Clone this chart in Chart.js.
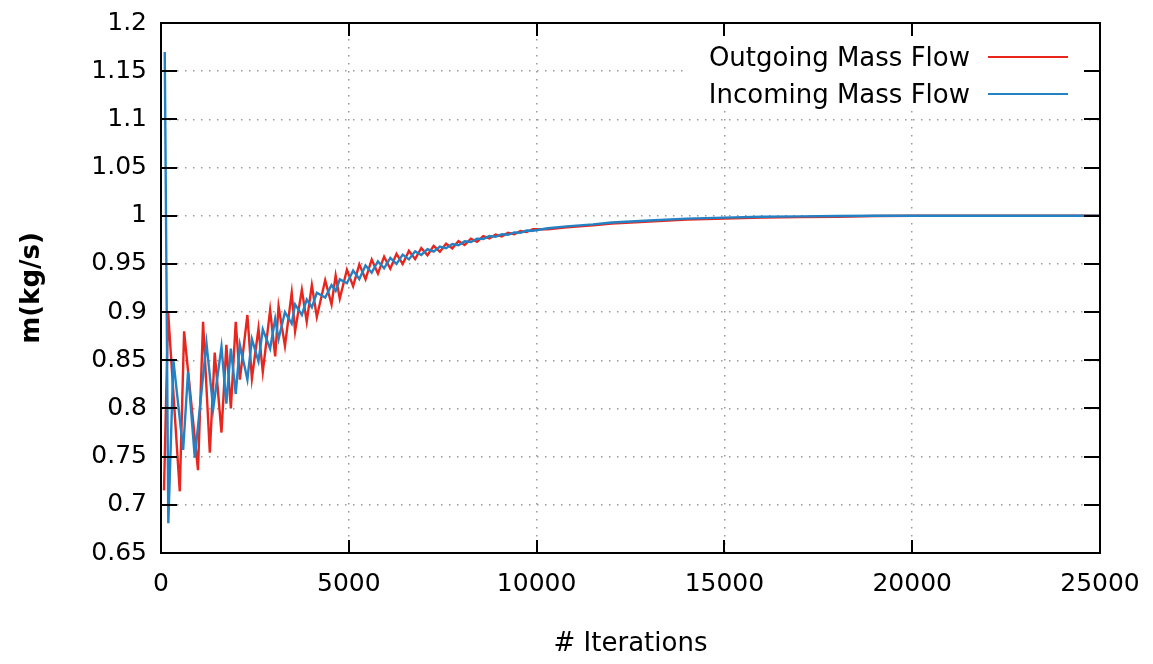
<!DOCTYPE html>
<html lang="en">
<head>
<meta charset="UTF-8">
<title>Mass Flow</title>
<script src="https://cdn.jsdelivr.net/npm/chart.js"></script>
<style>
  html, body { margin: 0; padding: 0; background: #fff; }
</style>
</head>
<body>
<canvas id="flowChart" width="1153" height="664"></canvas>
<script>
// Outgoing mass flow (red)
const outIter = [80, 190, 500, 615, 985, 1120, 1300, 1430, 1610, 1740, 1860, 1990, 2100, 2300, 2420, 2595, 2710, 2905,
  3040, 3130, 3300, 3480, 3570, 3750, 3880, 4016, 4149, 4371, 4540, 4650, 4760, 4950,
  5115, 5280, 5445, 5610, 5775, 5940, 6105, 6270, 6435, 6600, 6765, 6930, 7095, 7260, 7425, 7590, 7755, 7920,
  8085, 8250, 8415, 8580, 8745, 8910, 9075, 9240, 9405, 9570, 9735, 9900,
  10300, 10800, 11500, 12000, 13000, 14000, 15000, 16000, 17000, 18000, 19000, 20000, 25000];
const outFlow = [0.715, 0.900, 0.714, 0.880, 0.736, 0.890, 0.754, 0.858, 0.775, 0.866, 0.800, 0.890, 0.830, 0.897, 0.831, 0.883, 0.838, 0.902,
  0.854, 0.906, 0.865, 0.920, 0.880, 0.923, 0.890, 0.928, 0.895, 0.933, 0.908, 0.938, 0.914, 0.944,
  0.927, 0.9495, 0.934, 0.9545, 0.940, 0.9575, 0.945, 0.9605, 0.950, 0.9635, 0.955, 0.9665, 0.959, 0.9687, 0.9626, 0.971, 0.9662, 0.9736,
  0.9696, 0.9762, 0.973, 0.9788, 0.9764, 0.9805, 0.9786, 0.9823, 0.9808, 0.9841, 0.983, 0.986,
  0.986, 0.988, 0.990, 0.992, 0.994, 0.996, 0.997, 0.998, 0.9985, 0.999, 0.9997, 1.0, 1.0];

// Incoming mass flow (blue)
const inIter = [100, 195, 330, 590, 720, 900, 1210, 1390, 1610, 1740, 1860, 1990, 2100, 2300, 2420, 2595, 2710, 2905,
  3040, 3130, 3300, 3480, 3570, 3750, 3880, 4016, 4149, 4371, 4540, 4650, 4760, 4950,
  5115, 5280, 5445, 5610, 5775, 5940, 6105, 6270, 6435, 6600, 6765, 6930, 7095, 7260, 7425, 7590, 7755, 7920,
  8085, 8250, 8415, 8580, 8745, 8910, 9075, 9240, 9405, 9570, 9735, 9900,
  10300, 10800, 11500, 12000, 13000, 14000, 15000, 16000, 17000, 18000, 19000, 20000, 25000];
const inFlow = [1.170, 0.681, 0.850, 0.757, 0.838, 0.749, 0.868, 0.800, 0.864, 0.805, 0.862, 0.815, 0.866, 0.830, 0.872, 0.849, 0.882, 0.862,
  0.893, 0.872, 0.900, 0.888, 0.908, 0.897, 0.913, 0.905, 0.920, 0.915, 0.928, 0.922, 0.934, 0.930,
  0.943, 0.9343, 0.9484, 0.9409, 0.9528, 0.9455, 0.9562, 0.9501, 0.9596, 0.9547, 0.963, 0.9593, 0.9654, 0.9628, 0.968, 0.9662, 0.9707, 0.9694,
  0.9734, 0.9727, 0.9762, 0.9759, 0.979, 0.9781, 0.9808, 0.9802, 0.9827, 0.9823, 0.9846, 0.9844,
  0.987, 0.989, 0.991, 0.993, 0.995, 0.997, 0.998, 0.999, 0.9993, 0.9997, 1.0, 1.0, 1.0];

const xTicks = [0, 5000, 10000, 15000, 20000, 25000];
const yTicks = [0.65, 0.7, 0.75, 0.8, 0.85, 0.9, 0.95, 1, 1.05, 1.1, 1.15, 1.2];

const RED = '#e8261d';
const BLUE = '#2482c4';

Chart.defaults.font.family = '"DejaVu Sans", Verdana, sans-serif';
Chart.defaults.color = '#000';

// gnuplot style frame: border, inward ticks on all sides, legend on the right
const framePlugin = {
  id: 'frame',
  afterDatasetsDraw(chart) {
    const { ctx, chartArea: a, scales: { x, y } } = chart;
    ctx.save();

    // key box (hides grid behind it)
    ctx.fillStyle = '#fff';
    ctx.fillRect(a.right - 412, a.top + 3, 397, 84);
    ctx.font = '26px "DejaVu Sans", Verdana, sans-serif';
    ctx.textAlign = 'right';
    ctx.textBaseline = 'alphabetic';
    chart.data.datasets.forEach((ds, i) => {
      const ly = a.top + 34 + i * 37;
      ctx.fillStyle = '#000';
      ctx.fillText(ds.label, a.right - 130, ly + 9);
      ctx.strokeStyle = ds.borderColor;
      ctx.lineWidth = 2;
      ctx.beginPath();
      ctx.moveTo(a.right - 112, ly);
      ctx.lineTo(a.right - 32, ly);
      ctx.stroke();
    });

    ctx.strokeStyle = '#000';
    ctx.lineWidth = 2;
    ctx.beginPath();
    x.ticks.forEach(t => {
      const px = Math.round(x.getPixelForValue(t.value));
      ctx.moveTo(px, a.bottom); ctx.lineTo(px, a.bottom - 13);
      ctx.moveTo(px, a.top); ctx.lineTo(px, a.top + 13);
    });
    y.ticks.forEach(t => {
      const py = Math.round(y.getPixelForValue(t.value));
      ctx.moveTo(a.left, py); ctx.lineTo(a.left + 16, py);
      ctx.moveTo(a.right, py); ctx.lineTo(a.right - 16, py);
    });
    ctx.stroke();
    ctx.strokeRect(a.left, a.top, a.right - a.left, a.bottom - a.top);
    ctx.restore();
  }
};

const ctx = document.getElementById('flowChart').getContext('2d');
new Chart(ctx, {
  type: 'scatter',
  data: {
    datasets: [
      {
        label: 'Outgoing Mass Flow',
        data: outIter.map((it, i) => ({ x: it, y: outFlow[i] })),
        borderColor: RED,
        borderWidth: 2.4,
        showLine: true,
        pointRadius: 0,
        order: 1
      },
      {
        label: 'Incoming Mass Flow',
        data: inIter.map((it, i) => ({ x: it, y: inFlow[i] })),
        borderColor: BLUE,
        borderWidth: 2.4,
        showLine: true,
        pointRadius: 0,
        order: 0
      }
    ]
  },
  options: {
    responsive: false,
    animation: false,
    layout: { padding: { top: 23, right: 53, left: 0, bottom: 0 } },
    plugins: {
      legend: { display: false },
      tooltip: { enabled: false }
    },
    scales: {
      x: {
        type: 'linear',
        min: xTicks[0],
        max: xTicks[xTicks.length - 1],
        afterBuildTicks: s => { s.ticks = xTicks.map(v => ({ value: v })); },
        afterFit: s => { s.height = 111; s.paddingLeft = 0; s.paddingRight = 0; },
        grid: { color: '#9a9a9a', lineWidth: 1.5, drawTicks: false },
        border: { display: false, dash: [1.5, 6.5] },
        ticks: { font: { size: 25 }, padding: 16, maxRotation: 0, callback: v => String(v) },
        title: { display: true, text: '# Iterations', font: { size: 26 }, padding: { top: 0, bottom: 4 } }
      },
      y: {
        min: yTicks[0],
        max: yTicks[yTicks.length - 1],
        afterBuildTicks: s => { s.ticks = yTicks.map(v => ({ value: v })); },
        afterFit: s => { s.width = 161; s.paddingTop = 0; s.paddingBottom = 0; },
        grid: { color: '#9a9a9a', lineWidth: 1.5, drawTicks: false },
        border: { display: false, dash: [1.5, 6.5] },
        ticks: { font: { size: 25 }, padding: 14, callback: v => String(parseFloat(v.toFixed(2))) },
        title: { display: true, text: 'm(kg/s)', font: { size: 26, weight: 'bold' }, padding: { top: 17, bottom: 0 } }
      }
    }
  },
  plugins: [framePlugin]
});
</script>
</body>
</html>
